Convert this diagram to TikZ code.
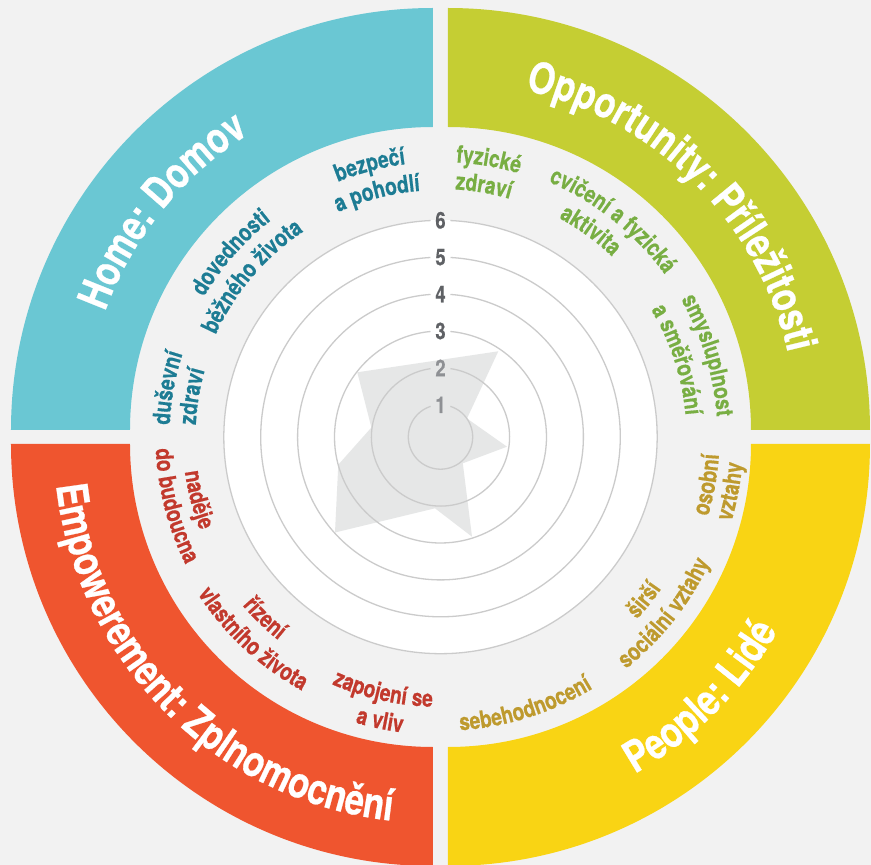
\documentclass[tikz,border=0pt]{standalone}
\usepackage{fontspec}
\setmainfont{TeX Gyre Heros}[FakeStretch=0.8, BoldFeatures={FakeBold=0.6}]
\usetikzlibrary{decorations.text}

\definecolor{bggray}{HTML}{F2F2F2}
\definecolor{hometeal}{HTML}{6AC7D3}
\definecolor{oppgreen}{HTML}{C5CE33}
\definecolor{peopleyellow}{HTML}{F9D414}
\definecolor{empred}{HTML}{EF552F}
\definecolor{hometext}{HTML}{1D7C94}
\definecolor{opptext}{HTML}{78AE43}
\definecolor{peopletext}{HTML}{BE9A2E}
\definecolor{emptext}{HTML}{C2392D}
\definecolor{ringgray}{HTML}{CBCBCB}
\definecolor{stargray}{HTML}{E6E7E7}
\definecolor{numdark}{HTML}{5F6165}
\definecolor{numlight}{HTML}{8E9094}

\newcommand\lblfont{\fontsize{24}{28}\selectfont\bfseries}
\newcommand\ttlfont{\fontsize{43}{50}\selectfont\bfseries}
\newcommand\numfont{\fontsize{23}{23}\selectfont\bfseries}

\tikzset{
  ringtext/.style 2 args={decorate, decoration={text along path, text align=center, text color=#1, text={|\lblfont|#2}}},
  titletext/.style={decorate, decoration={text along path, text align=center, text color=white, text={|\ttlfont|#1}}},
  ringline/.style={draw=ringgray, line width=1.3pt},
  numlabel/.style={inner sep=0pt, font=\numfont}
}

\begin{document}
\begin{tikzpicture}[x=1pt, y=1pt]
\useasboundingbox (-440.5,-428) rectangle (430.5,437);
\fill[bggray] (-440.5,-428) rectangle (430.5,437);

% quadrants
\begin{scope}[shift={(-7.5,7)}]
\fill[hometeal] (90:422) arc[start angle=90, end angle=180, radius=422] -- (180:303) arc[start angle=180, end angle=90, radius=303] -- cycle;
\path[titletext={Home: Domov}] (186:348.5) arc[start angle=186, end angle=96, radius=348.5];
\end{scope}
\begin{scope}[shift={(7.5,7)}]
\fill[oppgreen] (0:422) arc[start angle=0, end angle=90, radius=422] -- (90:303) arc[start angle=90, end angle=0, radius=303] -- cycle;
\path[titletext={Opportunity: Příležitosti}] (100:348.5) arc[start angle=100, end angle=-10, radius=348.5];
\end{scope}
\begin{scope}[shift={(7.5,-7)}]
\fill[peopleyellow] (-90:422) arc[start angle=-90, end angle=0, radius=422] -- (0:303) arc[start angle=0, end angle=-90, radius=303] -- cycle;
\path[titletext={People: Lidé}] (-100:379) arc[start angle=-100, end angle=10, radius=379];
\end{scope}
\begin{scope}[shift={(-7.5,-7)}]
\fill[empred] (180:422) arc[start angle=180, end angle=270, radius=422] -- (270:303) arc[start angle=270, end angle=180, radius=303] -- cycle;
\path[titletext={Empowerement: Zplnomocnění}] (165:379) arc[start angle=165, end angle=285, radius=379];
\end{scope}

% chart
\fill[white] (0,0) circle[radius=217];
\fill[stargray] (-83.2,64.7) -- (57.8,85.7) -- (26.5,18.5) -- (66.5,-9.7) -- (22.3,-26.3) -- (31.5,-99.7) -- (-5.5,-71.3) -- (-105.5,-95.5) -- (-102.2,-27.7) -- (-69.1,9.5) -- cycle;

\path[ringline] (72.2:32.2) arc[start angle=72.2, end angle=-252.2, radius=32.2];
\path[ringline] (81.7:69.1) arc[start angle=81.7, end angle=-261.7, radius=69.1];
\path[ringline] (84.6:106) arc[start angle=84.6, end angle=-264.6, radius=106];
\path[ringline] (86:142.9) arc[start angle=86, end angle=-266, radius=142.9];
\path[ringline] (86.8:179.8) arc[start angle=86.8, end angle=-266.8, radius=179.8];
\path[ringline] (87.4:216.7) arc[start angle=87.4, end angle=-267.4, radius=216.7];

\node[numlabel, text=numlight] (n1) at (90:32.2) {1};
\node[numlabel, text=numlight] (n2) at (90:69.1) {2};
\node[numlabel, text=numdark] (n3) at (90:106) {3};
\node[numlabel, text=numdark] (n4) at (90:142.9) {4};
\node[numlabel, text=numdark] (n5) at (90:179.8) {5};
\node[numlabel, text=numdark] (n6) at (90:216.7) {6};

% Home labels
\path[ringtext={hometext}{bezpečí}] (144.6:275) arc[start angle=144.6, end angle=64.6, radius=275];
\path[ringtext={hometext}{a pohodlí}] (144.6:247) arc[start angle=144.6, end angle=64.6, radius=247];
\path[ringtext={hometext}{dovednosti}] (178.7:275) arc[start angle=178.7, end angle=98.7, radius=275];
\path[ringtext={hometext}{běžného života}] (179.6:247) arc[start angle=179.6, end angle=99.6, radius=247];
\path[ringtext={hometext}{duševní}] (209.8:271) arc[start angle=209.8, end angle=129.8, radius=271];
\path[ringtext={hometext}{zdraví}] (210.7:245) arc[start angle=210.7, end angle=130.7, radius=245];

% Opportunity labels
\path[ringtext={opptext}{fyzické}] (120.1:275) arc[start angle=120.1, end angle=40.1, radius=275];
\path[ringtext={opptext}{zdraví}] (120.2:248) arc[start angle=120.2, end angle=40.2, radius=248];
\path[ringtext={opptext}{cvičení a fyzická}] (91.5:277) arc[start angle=91.5, end angle=11.5, radius=277];
\path[ringtext={opptext}{aktivita}] (94:249) arc[start angle=94, end angle=14, radius=249];
\path[ringtext={opptext}{smysluplnost}] (57:277) arc[start angle=57, end angle=-23, radius=277];
\path[ringtext={opptext}{a směřování}] (58.1:246) arc[start angle=58.1, end angle=-21.9, radius=246];

% People labels
\path[ringtext={peopletext}{osobní}] (-50.1:279) arc[start angle=-50.1, end angle=29.9, radius=279];
\path[ringtext={peopletext}{vztahy}] (-50.6:303) arc[start angle=-50.6, end angle=29.4, radius=303];
\path[ringtext={peopletext}{širší}] (-78.7:268) arc[start angle=-78.7, end angle=1.3, radius=268];
\path[ringtext={peopletext}{sociální vztahy}] (-78.2:297) arc[start angle=-78.2, end angle=1.8, radius=297];
\path[ringtext={peopletext}{sebehodnocení}] (-112.5:294) arc[start angle=-112.5, end angle=-32.5, radius=294];

% Empowerment labels
\path[ringtext={emptext}{zapojení se}] (217.3:270) arc[start angle=217.3, end angle=297.3, radius=270];
\path[ringtext={emptext}{a vliv}] (218:298) arc[start angle=218, end angle=298, radius=298];
\path[ringtext={emptext}{řízení}] (185.9:260) arc[start angle=185.9, end angle=265.9, radius=260];
\path[ringtext={emptext}{vlastního života}] (187.1:289) arc[start angle=187.1, end angle=267.1, radius=289];
\path[ringtext={emptext}{naděje}] (154.5:258) arc[start angle=154.5, end angle=234.5, radius=258];
\path[ringtext={emptext}{do budoucna}] (154.5:285) arc[start angle=154.5, end angle=234.5, radius=285];
\end{tikzpicture}
\end{document}
